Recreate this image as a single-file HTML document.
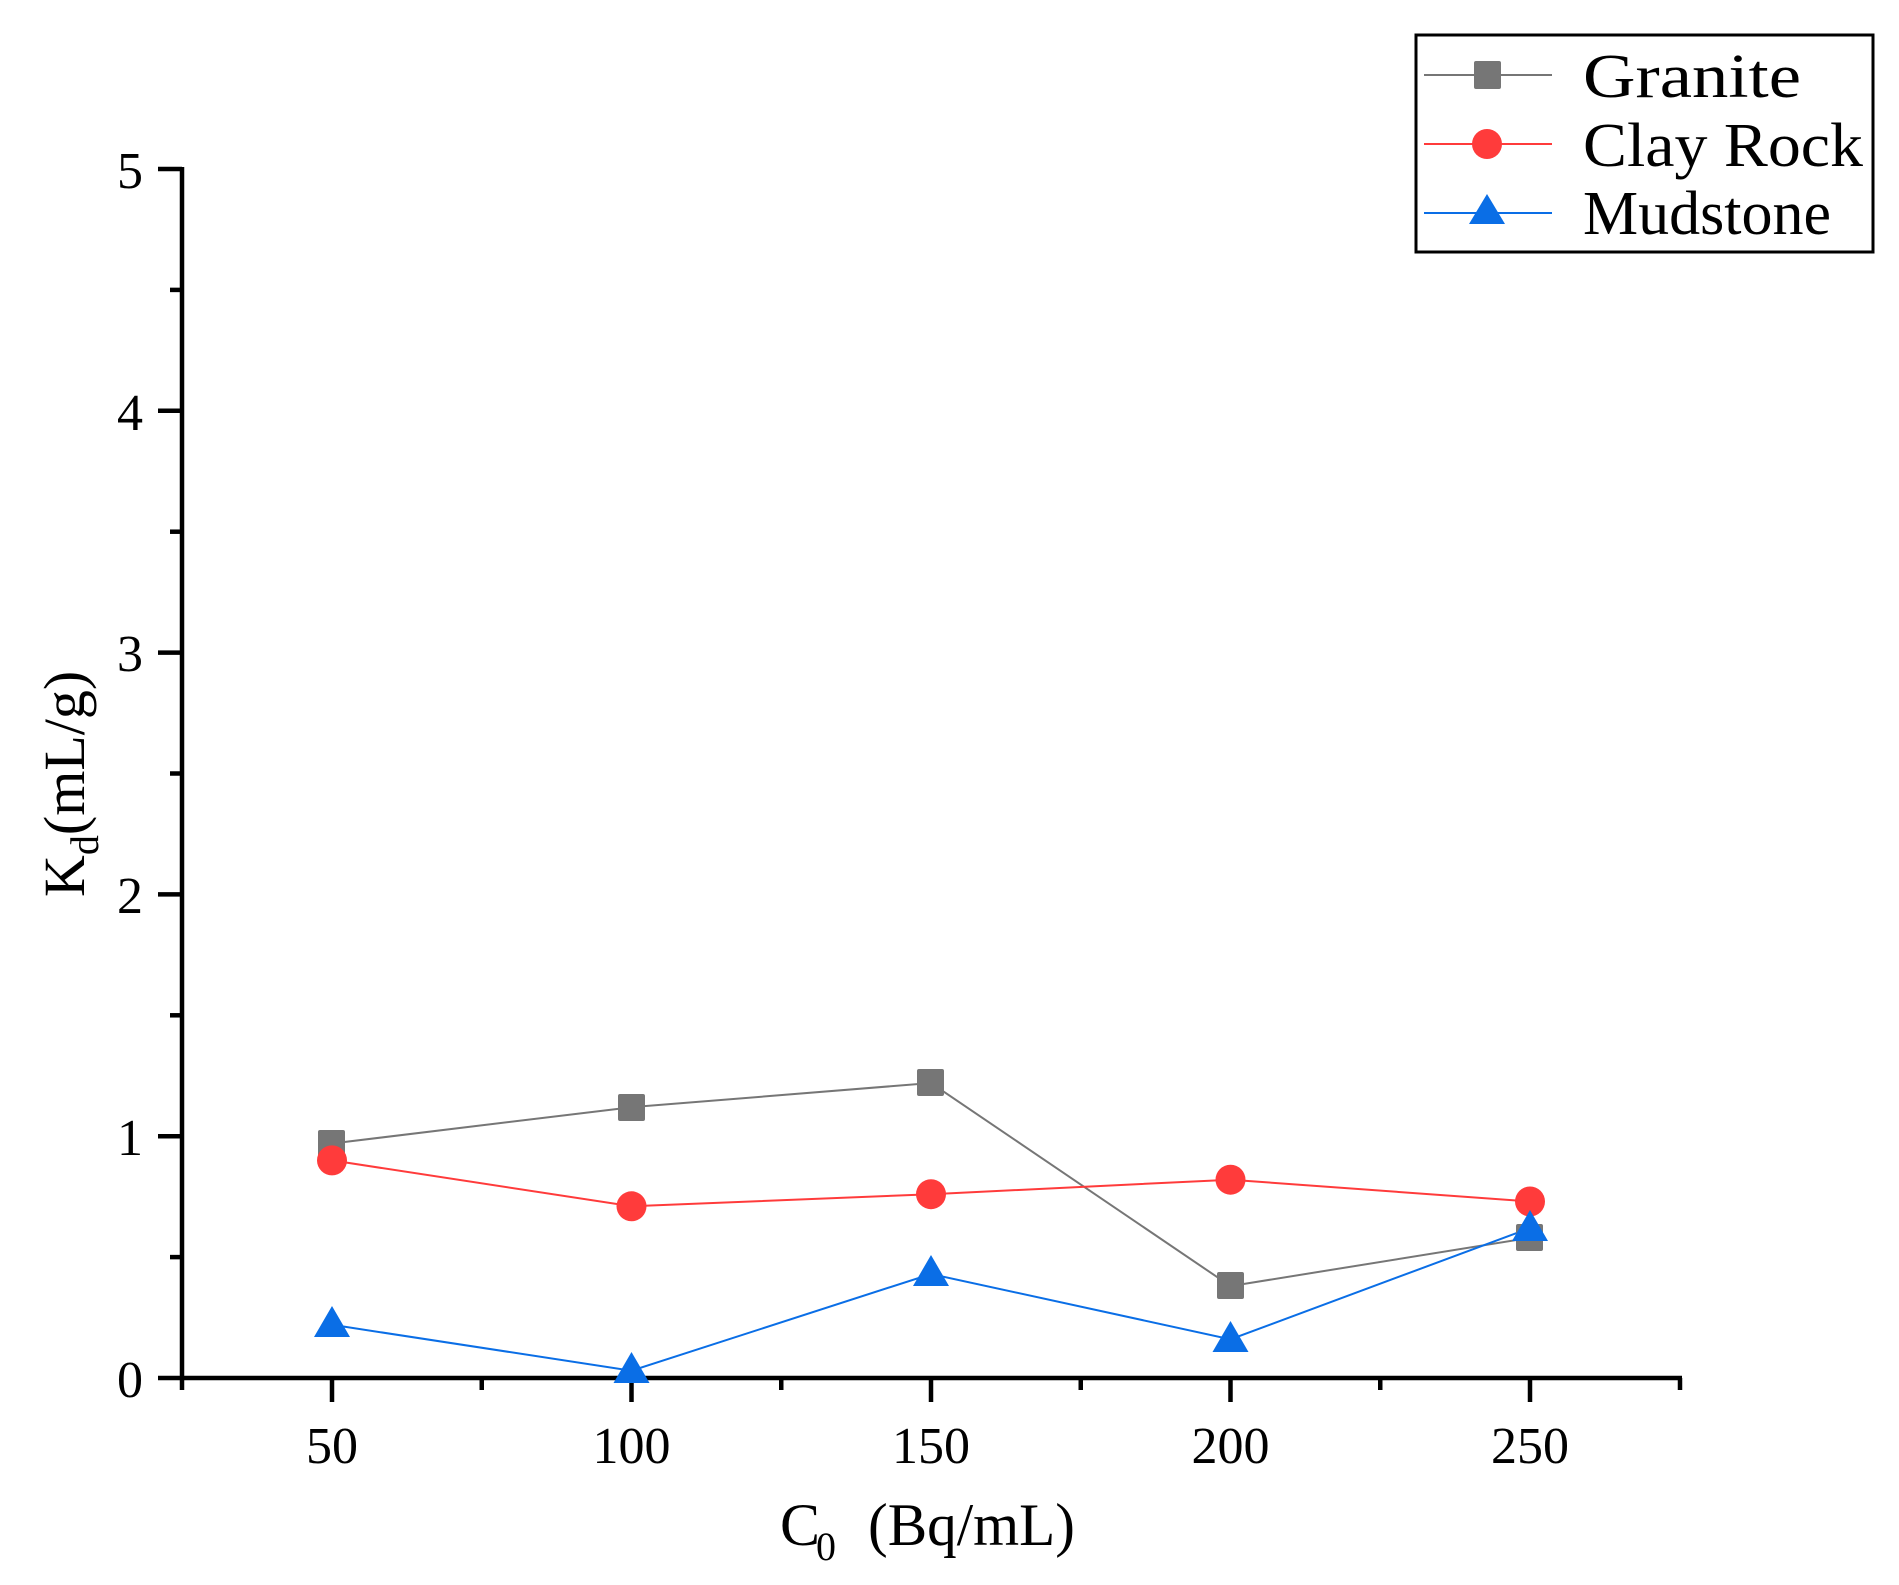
<!DOCTYPE html>
<html><head><meta charset="utf-8"><style>html,body{margin:0;padding:0;background:#fff}</style></head>
<body>
<svg width="1899" height="1580" xmlns="http://www.w3.org/2000/svg" font-family="'Liberation Serif', serif">
<rect width="1899" height="1580" fill="#fff"/>
<g stroke="#000" stroke-width="4.5" fill="none">
<line x1="182" y1="167" x2="182" y2="1380"/>
<line x1="180" y1="1378" x2="1682" y2="1378"/>
<line x1="1680" y1="1378" x2="1680" y2="1390"/>
<line x1="332" y1="1378" x2="332" y2="1402"/>
<line x1="631.5" y1="1378" x2="631.5" y2="1402"/>
<line x1="931" y1="1378" x2="931" y2="1402"/>
<line x1="1230.5" y1="1378" x2="1230.5" y2="1402"/>
<line x1="1530" y1="1378" x2="1530" y2="1402"/>
<line x1="182" y1="1378" x2="182" y2="1390"/>
<line x1="481.75" y1="1378" x2="481.75" y2="1390"/>
<line x1="781.25" y1="1378" x2="781.25" y2="1390"/>
<line x1="1080.75" y1="1378" x2="1080.75" y2="1390"/>
<line x1="1380.25" y1="1378" x2="1380.25" y2="1390"/>
<line x1="158" y1="1378" x2="182" y2="1378"/>
<line x1="158" y1="1136.2" x2="182" y2="1136.2"/>
<line x1="158" y1="894.4" x2="182" y2="894.4"/>
<line x1="158" y1="652.6" x2="182" y2="652.6"/>
<line x1="158" y1="410.8" x2="182" y2="410.8"/>
<line x1="158" y1="169" x2="182" y2="169"/>
<line x1="170" y1="1257.1" x2="182" y2="1257.1"/>
<line x1="170" y1="1015.3" x2="182" y2="1015.3"/>
<line x1="170" y1="773.5" x2="182" y2="773.5"/>
<line x1="170" y1="531.7" x2="182" y2="531.7"/>
<line x1="170" y1="289.9" x2="182" y2="289.9"/>
</g>
<g font-size="52" fill="#000" text-anchor="middle">
<text x="332" y="1463">50</text>
<text x="631.5" y="1463">100</text>
<text x="931" y="1463">150</text>
<text x="1230.5" y="1463">200</text>
<text x="1530" y="1463">250</text>
</g>
<g font-size="52" fill="#000" text-anchor="end">
<text x="143" y="1397">0</text>
<text x="143" y="1155">1</text>
<text x="143" y="913">2</text>
<text x="143" y="671">3</text>
<text x="143" y="430">4</text>
<text x="143" y="188">5</text>
</g>
<text x="780" y="1545" font-size="60" fill="#000">C</text>
<text x="816" y="1560" font-size="40" fill="#000">0</text>
<text x="868" y="1545" font-size="60" fill="#000" textLength="207" lengthAdjust="spacingAndGlyphs">(Bq/mL)</text>
<text transform="translate(84,897) rotate(-90)" font-size="58" fill="#000">K<tspan font-size="40" dy="14">d</tspan><tspan dy="-14">(mL/g)</tspan></text>
<polyline fill="none" stroke="#767676" stroke-width="2" points="332,1143.5 631.5,1107.2 931,1083.0 1230.5,1286.1 1530,1237.8"/>
<polyline fill="none" stroke="#FF3B3B" stroke-width="2" points="332,1160.4 631.5,1206.3 931,1194.2 1230.5,1179.7 1530,1201.5"/>
<polyline fill="none" stroke="#0A6EE6" stroke-width="2" points="332,1324.8 631.5,1370.7 931,1274.0 1230.5,1339.3 1530,1228.1"/>
<g fill="#767676">
<rect x="318" y="1130" width="27" height="27" rx="2"/>
<rect x="618" y="1094" width="27" height="27" rx="2"/>
<rect x="917" y="1069" width="27" height="27" rx="2"/>
<rect x="1217" y="1272" width="27" height="27" rx="2"/>
<rect x="1516" y="1224" width="27" height="27" rx="2"/>
</g>
<g fill="#FF3B3B">
<circle cx="332" cy="1160.4" r="15"/>
<circle cx="631.5" cy="1206.3" r="15"/>
<circle cx="931" cy="1194.2" r="15"/>
<circle cx="1230.5" cy="1179.7" r="15"/>
<circle cx="1530" cy="1201.5" r="15"/>
</g>
<g fill="#0A6EE6">
<polygon points="332,1306 350,1337 314,1337"/>
<polygon points="631.5,1352 649.5,1383 613.5,1383"/>
<polygon points="931,1255 949,1286 913,1286"/>
<polygon points="1230.5,1321 1248.5,1352 1212.5,1352"/>
<polygon points="1530,1210 1548,1241 1512,1241"/>
</g>
<rect x="1416" y="35" width="457" height="217" fill="#fff" stroke="#000" stroke-width="3"/>
<line x1="1424" y1="75" x2="1552" y2="75" stroke="#767676" stroke-width="2"/>
<rect x="1474" y="61" width="27" height="28" rx="2" fill="#767676"/>
<line x1="1424" y1="144" x2="1552" y2="144" stroke="#FF3B3B" stroke-width="2"/>
<circle cx="1487" cy="144" r="15" fill="#FF3B3B"/>
<line x1="1424" y1="213" x2="1552" y2="213" stroke="#0A6EE6" stroke-width="2"/>
<polygon points="1487,194 1505,224 1469,224" fill="#0A6EE6"/>
<g font-size="62" fill="#000">
<text x="1583" y="97" textLength="218" lengthAdjust="spacingAndGlyphs">Granite</text>
<text x="1583" y="166" textLength="280" lengthAdjust="spacingAndGlyphs">Clay Rock</text>
<text x="1583" y="234" textLength="248" lengthAdjust="spacingAndGlyphs">Mudstone</text>
</g>
</svg>
</body></html>
